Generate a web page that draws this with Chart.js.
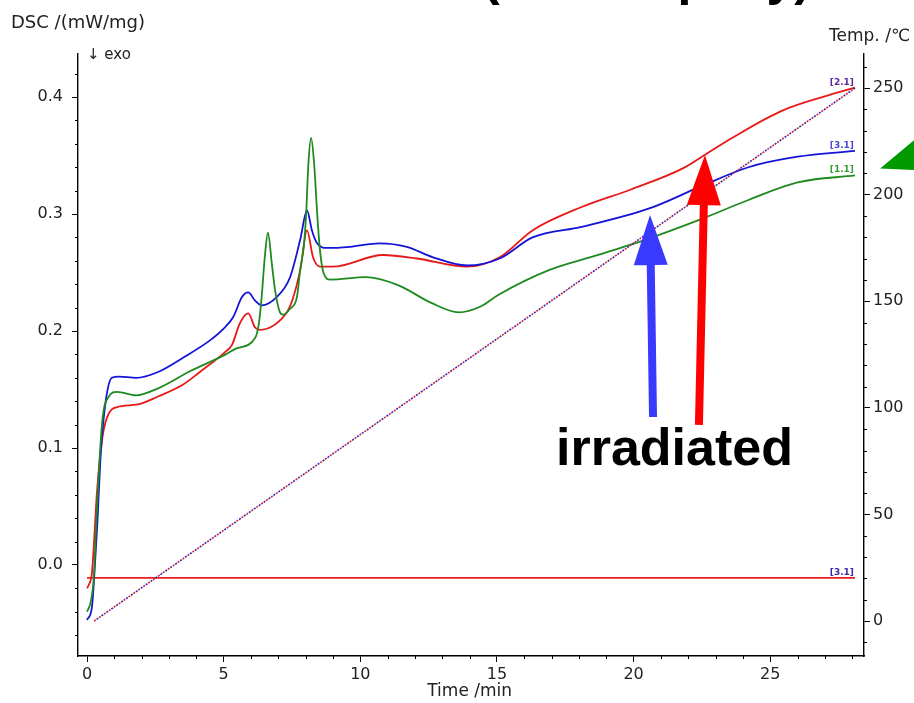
<!DOCTYPE html>
<html>
<head>
<meta charset="utf-8">
<script src="https://cdn.jsdelivr.net/npm/chart.js@4.4.1/dist/chart.umd.min.js"></script>
<style>
  html, body { margin: 0; padding: 0; background: #fff; }
  canvas { display: block; }
</style>
</head>
<body>
<canvas id="dscChart" width="914" height="703"></canvas>
<script>
// sample [1.1] (green)
const s11Time = [0, 0.15, 0.26, 0.33, 0.55, 0.8, 1.1, 1.8, 2.6, 3.8, 5.08, 5.45, 6.15, 6.28, 6.39, 6.5, 6.62, 6.76, 6.88, 7.06, 7.17, 7.43, 7.68, 7.8, 7.94, 8.02, 8.1, 8.2, 8.31, 8.42, 8.52, 8.65, 8.9, 10.2, 11.4, 12.6, 13.6, 14.4, 15.06, 16.9, 18.7, 20.55, 22.4, 24.2, 26.0, 28.1];
const s11Dsc = [-0.040, -0.030, -0.007, 0.032, 0.121, 0.144, 0.148, 0.145, 0.151, 0.166, 0.180, 0.185, 0.194, 0.205, 0.229, 0.262, 0.284, 0.258, 0.235, 0.216, 0.214, 0.219, 0.229, 0.252, 0.274, 0.301, 0.343, 0.365, 0.343, 0.301, 0.270, 0.250, 0.244, 0.246, 0.239, 0.224, 0.216, 0.221, 0.231, 0.252, 0.265, 0.279, 0.295, 0.312, 0.327, 0.333];

// sample [2.1] (red)
const s21Time = [0, 0.12, 0.18, 0.37, 0.55, 0.73, 1.1, 1.8, 2.6, 3.5, 4.13, 5.05, 5.3, 5.6, 5.9, 6.15, 6.33, 6.7, 7.06, 7.43, 7.8, 8.05, 8.27, 8.53, 9.0, 10.83, 12.07, 13.9, 15.1, 16.3, 18.1, 19.9, 21.8, 22.7, 23.6, 25.4, 27.2, 28.1];
const s21Dsc = [-0.020, -0.014, -0.007, 0.064, 0.107, 0.126, 0.135, 0.137, 0.144, 0.154, 0.165, 0.182, 0.188, 0.207, 0.215, 0.203, 0.201, 0.203, 0.209, 0.221, 0.252, 0.286, 0.263, 0.255, 0.255, 0.265, 0.262, 0.255, 0.263, 0.286, 0.306, 0.321, 0.339, 0.352, 0.365, 0.388, 0.402, 0.408];

// sample [3.1] (blue)
const s31Time = [0, 0.18, 0.26, 0.37, 0.51, 0.69, 0.91, 1.17, 1.8, 2.6, 3.5, 4.5, 5.0, 5.35, 5.67, 5.9, 6.15, 6.39, 6.94, 7.43, 7.8, 8.05, 8.23, 8.42, 8.78, 9.62, 10.7, 11.7, 12.66, 13.9, 15.1, 16.3, 18.1, 20.6, 22.4, 24.2, 26.0, 28.1];
const s31Dsc = [-0.047, -0.036, -0.011, 0.032, 0.098, 0.141, 0.160, 0.161, 0.160, 0.165, 0.177, 0.192, 0.202, 0.212, 0.229, 0.233, 0.226, 0.222, 0.229, 0.246, 0.278, 0.303, 0.286, 0.275, 0.271, 0.272, 0.275, 0.272, 0.263, 0.256, 0.262, 0.280, 0.289, 0.305, 0.323, 0.340, 0.349, 0.354];

// flat red trace near zero
const baseTime = [0, 28.1];
const baseDsc = [-0.011, -0.011];

// furnace temperature
const tempTime = [0.26, 28.1];
const tempC = [0, 250];

// axes
const timeTicks = [0, 5, 10, 15, 20, 25];
const dscTicks = [0.0, 0.1, 0.2, 0.3, 0.4];
const tempTicks = [0, 50, 100, 150, 200, 250];

const tickFont = '"DejaVu Sans", sans-serif';
const boldFont = '"Liberation Sans", Arial, sans-serif';

function pts(xs, ys) {
    return xs.map(function(x, i) { return { x: x, y: ys[i] }; });
}

function drawMinor(ctx, scale, step, majorStep, side, base, len) {
    const start = Math.ceil(scale.min / step) * step;
    for (let v = start; v <= scale.max + 1e-9; v += step) {
        const r = v / majorStep;
        if (Math.abs(r - Math.round(r)) < 1e-6) continue;
        const p = Math.round(scale.getPixelForValue(v)) + 0.5;
        ctx.beginPath();
        if (side === 'bottom') { ctx.moveTo(p, base); ctx.lineTo(p, base + len); }
        else if (side === 'left') { ctx.moveTo(base, p); ctx.lineTo(base - len, p); }
        else { ctx.moveTo(base, p); ctx.lineTo(base + len, p); }
        ctx.stroke();
    }
}

function drawArrow(ctx, x0, y0, x1, y1, shaftW, headLen, headHalf, color) {
    const dx = x1 - x0, dy = y1 - y0;
    const L = Math.sqrt(dx * dx + dy * dy);
    const ux = dx / L, uy = dy / L;
    const nx = -uy, ny = ux;
    const bx = x1 - ux * headLen, by = y1 - uy * headLen;
    ctx.fillStyle = color;
    ctx.beginPath();
    ctx.moveTo(x0 + nx * shaftW / 2, y0 + ny * shaftW / 2);
    ctx.lineTo(bx + nx * shaftW / 2, by + ny * shaftW / 2);
    ctx.lineTo(bx + nx * headHalf, by + ny * headHalf);
    ctx.lineTo(x1, y1);
    ctx.lineTo(bx - nx * headHalf, by - ny * headHalf);
    ctx.lineTo(bx - nx * shaftW / 2, by - ny * shaftW / 2);
    ctx.lineTo(x0 - nx * shaftW / 2, y0 - ny * shaftW / 2);
    ctx.closePath();
    ctx.fill();
}

const decorPlugin = {
    id: 'decor',
    afterDraw(chart) {
        const ctx = chart.ctx;
        const sx = chart.scales.x, sy = chart.scales.y, st = chart.scales.yT;
        const area = chart.chartArea;
        ctx.save();

        // minor ticks
        ctx.strokeStyle = '#000';
        ctx.lineWidth = 1;
        drawMinor(ctx, sx, 1, 5, 'bottom', area.bottom, 3);
        drawMinor(ctx, sy, 0.02, 0.1, 'left', area.left, 3);
        drawMinor(ctx, st, 10, 50, 'right', area.right, 3);

        // curve end tags
        chart.data.datasets.forEach(function(ds, i) {
            if (!ds.tag) return;
            const meta = chart.getDatasetMeta(i);
            const last = meta.data[meta.data.length - 1];
            ctx.font = 'bold 9px ' + tickFont;
            ctx.fillStyle = ds.tagColor;
            ctx.textAlign = 'right';
            ctx.textBaseline = 'alphabetic';
            ctx.fillText(ds.tag, last.x - 1, last.y - 3);
        });

        // axis titles
        ctx.fillStyle = '#222';
        ctx.textBaseline = 'middle';
        ctx.textAlign = 'left';
        ctx.font = '18px ' + tickFont;
        ctx.fillText('DSC /(mW/mg)', 11, 23);
        ctx.font = '15px ' + tickFont;
        ctx.fillText('\u2193 exo', 87, 55);
        ctx.font = '17px ' + tickFont;
        ctx.textAlign = 'right';
        ctx.fillText('Temp. /\u2103', 910, 37);
        ctx.textAlign = 'center';
        ctx.fillText('Time /min', sx.getPixelForValue(14), 692);

        // cropped heading above the plot
        ctx.fillStyle = '#000';
        ctx.font = 'bold 50px ' + boldFont;
        ctx.textAlign = 'left';
        ctx.textBaseline = 'alphabetic';
        ctx.fillText('(cured epoxy)', 483, -5);

        // arrows
        drawArrow(ctx, sx.getPixelForValue(20.71), sy.getPixelForValue(0.1265),
            sx.getPixelForValue(20.60), sy.getPixelForValue(0.2991), 8, 50, 17, '#3a3aff');
        drawArrow(ctx, sx.getPixelForValue(22.39), sy.getPixelForValue(0.1197),
            sx.getPixelForValue(22.61), sy.getPixelForValue(0.3504), 8, 50, 17, '#ff0000');

        ctx.fillStyle = '#000';
        ctx.font = 'bold 52px ' + boldFont;
        ctx.textAlign = 'left';
        ctx.fillText('irradiated', sx.getPixelForValue(17.16), sy.getPixelForValue(0.0855));

        // green pointer cut by the right edge
        ctx.fillStyle = '#009900';
        ctx.beginPath();
        ctx.moveTo(sx.getPixelForValue(29.02), sy.getPixelForValue(0.339));
        ctx.lineTo(chart.width, sy.getPixelForValue(0.363));
        ctx.lineTo(chart.width, sy.getPixelForValue(0.3376));
        ctx.closePath();
        ctx.fill();

        ctx.restore();
    }
};

new Chart(document.getElementById('dscChart').getContext('2d'), {
    type: 'line',
    data: {
        datasets: [
            {
                label: 'Temp red',
                data: pts(tempTime, tempC),
                yAxisID: 'yT',
                borderColor: '#e0202a',
                borderWidth: 1.6,
                borderDash: [2, 4],
                tag: '[2.1]',
                tagColor: '#5a2a9a'
            },
            {
                label: 'Temp blue',
                data: pts(tempTime, tempC),
                yAxisID: 'yT',
                borderColor: '#2a2ac0',
                borderWidth: 1.6,
                borderDash: [2, 4],
                borderDashOffset: 3
            },
            {
                label: '[1.1]',
                data: pts(s11Time, s11Dsc),
                yAxisID: 'y',
                borderColor: '#1f8a1f',
                borderWidth: 1.8,
                tag: '[1.1]',
                tagColor: '#3c9a3c'
            },
            {
                label: '[3.1]',
                data: pts(s31Time, s31Dsc),
                yAxisID: 'y',
                borderColor: '#1414d8',
                borderWidth: 1.8,
                tag: '[3.1]',
                tagColor: '#4a4ad0'
            },
            {
                label: '[2.1]',
                data: pts(s21Time, s21Dsc),
                yAxisID: 'y',
                borderColor: '#e81818',
                borderWidth: 1.8
            },
            {
                label: 'base',
                data: pts(baseTime, baseDsc),
                yAxisID: 'y',
                borderColor: '#ee1c1c',
                borderWidth: 1.8,
                tag: '[3.1]',
                tagColor: '#3a2aa8'
            }
        ]
    },
    options: {
        responsive: false,
        devicePixelRatio: 1,
        animation: false,
        events: [],
        layout: { padding: { top: 54, left: 0, right: 0, bottom: 0 } },
        elements: {
            point: { radius: 0 },
            line: { cubicInterpolationMode: 'monotone', fill: false }
        },
        plugins: {
            legend: { display: false },
            tooltip: { enabled: false }
        },
        scales: {
            x: {
                type: 'linear',
                position: 'bottom',
                min: -0.33,
                max: 28.43,
                afterFit: function(s) { s.height = 47; },
                afterBuildTicks: function(s) { s.ticks = timeTicks.map(function(v) { return { value: v }; }); },
                ticks: {
                    color: '#222',
                    font: { family: tickFont, size: 16 },
                    padding: 3,
                    maxRotation: 0,
                    autoSkip: false,
                    callback: function(v) { return String(v); }
                },
                grid: { drawOnChartArea: false, drawTicks: true, tickLength: 6, color: '#000', lineWidth: 1 },
                border: { display: true, color: '#000', width: 1.4 }
            },
            y: {
                type: 'linear',
                position: 'left',
                min: -0.0778,
                max: 0.4368,
                afterFit: function(s) { s.width = 78; },
                afterBuildTicks: function(s) { s.ticks = dscTicks.map(function(v) { return { value: v }; }); },
                ticks: {
                    color: '#222',
                    font: { family: tickFont, size: 16 },
                    padding: 9,
                    autoSkip: false,
                    callback: function(v) { return v.toFixed(1); }
                },
                grid: { drawOnChartArea: false, drawTicks: true, tickLength: 6, color: '#000', lineWidth: 1 },
                border: { display: true, color: '#000', width: 1.4 }
            },
            yT: {
                type: 'linear',
                position: 'right',
                min: -16.4,
                max: 266,
                afterFit: function(s) { s.width = 50; },
                afterBuildTicks: function(s) { s.ticks = tempTicks.map(function(v) { return { value: v }; }); },
                ticks: {
                    color: '#222',
                    font: { family: tickFont, size: 16 },
                    padding: 3,
                    autoSkip: false,
                    callback: function(v) { return String(v); }
                },
                grid: { drawOnChartArea: false, drawTicks: true, tickLength: 6, color: '#000', lineWidth: 1 },
                border: { display: true, color: '#000', width: 1.4 }
            }
        }
    },
    plugins: [decorPlugin]
});
</script>
</body>
</html>
